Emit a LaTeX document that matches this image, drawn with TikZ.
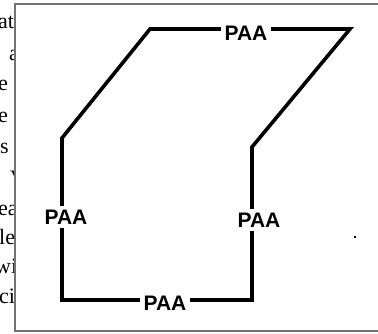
\documentclass[tikz,border=0pt]{standalone}
\usepackage{fontspec}
\setmainfont{Liberation Serif}
\newfontfamily\labelfont{Liberation Sans}
\begin{document}
\begin{tikzpicture}[x=1pt,y=-1pt,
  bgtext/.style={anchor=base west,inner sep=0pt,font=\fontsize{22}{26}\selectfont},
  wall/.style={line width=3.6pt,black,line join=miter},
  paa/.style={fill=white,inner sep=4pt,font=\labelfont\bfseries\fontsize{21}{25}\selectfont},
  frame/.style={draw=black!55,line width=1.4pt,fill=white}]
\clip (0,0) rectangle (378,333);
% clipped fragments of page text behind the figure
\node[bgtext] (t1) at (-2,28) {atin};
\node[bgtext] (t2) at (9,60) {a};
\node[bgtext] (t3) at (-2,90) {e s};
\node[bgtext] (t4) at (-2,122) {e};
\node[bgtext] (t5) at (0,153) {s p};
\node[bgtext] (t6) at (10,185) {V};
\node[bgtext] (t7) at (-2,215) {ea};
\node[bgtext] (t8) at (-1,244) {le};
\node[bgtext] (t9) at (-5,273) {wi};
\node[bgtext] (t10) at (-1,303) {cil};
% figure frame
\draw[frame] (15,4) rectangle (390,331);
% corners
\coordinate (F) at (62,138);
\coordinate (A) at (150,29);
\coordinate (B) at (350,29);
\coordinate (C) at (252,147);
\coordinate (D) at (252,300);
\coordinate (E) at (62,300);
\draw[wall] (F) -- (A) -- (B) -- (C) -- (D) -- (E) -- cycle;
% labels
\node[paa] (ptop) at (246,33) {PAA};
\node[paa] (pleft) at (66,217) {PAA};
\node[paa] (pright) at (259,220) {PAA};
\node[paa] (pbottom) at (165,303) {PAA};
% stray dot
\fill (354.2,236.2) rectangle (355.8,237.8);
\end{tikzpicture}
\end{document}
